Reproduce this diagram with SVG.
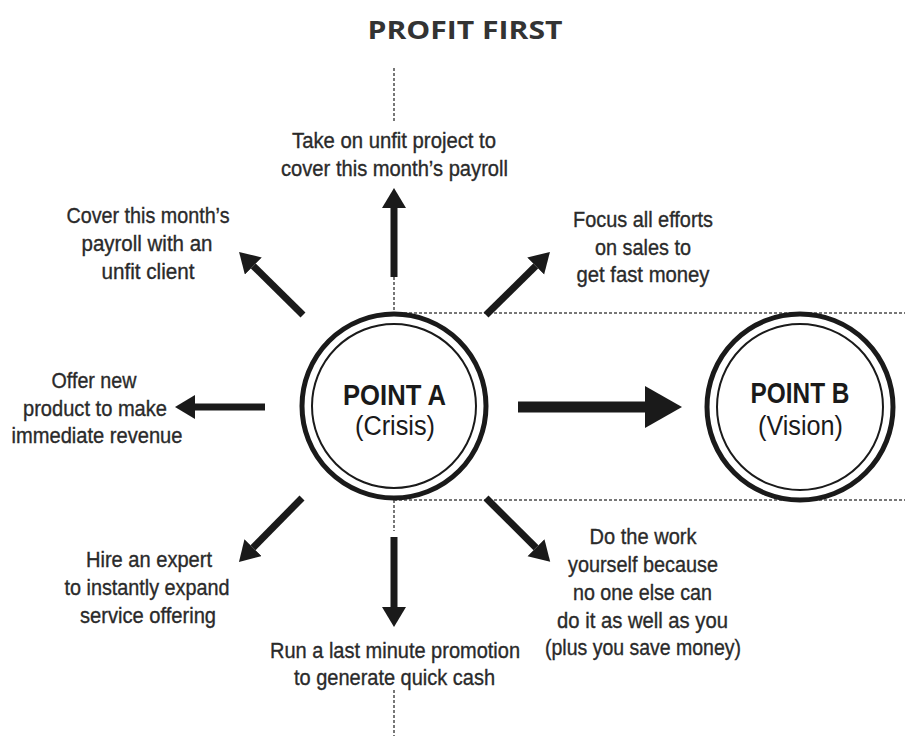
<svg xmlns="http://www.w3.org/2000/svg" width="905" height="736" viewBox="0 0 905 736">
<style>
.lbl{font-family:"Liberation Sans",Arial,sans-serif;font-size:22px;fill:#2a2a2a;stroke:#2a2a2a;stroke-width:0.35;text-anchor:middle}
.title{font-family:"Open Sans","Liberation Sans",sans-serif;font-weight:bold;font-size:25px;fill:#333;text-anchor:middle}
.pt{font-family:"Liberation Sans",Arial,sans-serif;font-weight:bold;font-size:30px;fill:#1a1a1a;text-anchor:middle}
.sub{font-family:"Liberation Sans",Arial,sans-serif;font-size:27px;fill:#1a1a1a;text-anchor:middle}
.dot{stroke:#777;stroke-width:2;stroke-dasharray:3 2;fill:none}
.arr{stroke:#1a1a1a;stroke-width:7;fill:none;marker-end:url(#head)}
.big{stroke:#1a1a1a;stroke-width:11;fill:none;marker-end:url(#bighead)}
.outer{fill:#fff;stroke:#1a1a1a;stroke-width:5}
.inner{fill:none;stroke:#1a1a1a;stroke-width:2}
</style>
<defs>
<marker id="head" markerUnits="userSpaceOnUse" markerWidth="22" markerHeight="26" refX="0" refY="12" orient="auto" viewBox="0 0 22 26">
<path d="M0,0 L20,12 L0,24 z" fill="#1a1a1a"/>
</marker>
<marker id="bighead" markerUnits="userSpaceOnUse" markerWidth="40" markerHeight="44" refX="0" refY="21" orient="auto" viewBox="0 0 40 44">
<path d="M0,0 L37,21 L0,42 z" fill="#1a1a1a"/>
</marker>
</defs>
<rect width="905" height="736" fill="#fff"/>
<text class="title" x="465" y="39" textLength="195" lengthAdjust="spacingAndGlyphs">PROFIT FIRST</text>
<g id="guides">
<line class="dot" x1="394" y1="68" x2="394" y2="123"/>
<line class="dot" x1="394" y1="277" x2="394" y2="313"/>
<line class="dot" x1="394" y1="500" x2="394" y2="531"/>
<line class="dot" x1="394" y1="690" x2="394" y2="736"/>
<line class="dot" x1="394" y1="313" x2="905" y2="313"/>
<line class="dot" x1="394" y1="500" x2="905" y2="500"/>
</g>
<g id="connectors">
<line class="arr" x1="394" y1="277" x2="394" y2="208"/>
<line class="arr" x1="394" y1="537" x2="394" y2="607"/>
<line class="arr" x1="265" y1="407" x2="195" y2="407"/>
<line class="arr" x1="303" y1="315" x2="253.3" y2="266"/>
<line class="arr" x1="486" y1="315" x2="535.7" y2="266"/>
<line class="arr" x1="302" y1="498" x2="253" y2="547.7"/>
<line class="arr" x1="486" y1="498" x2="536" y2="547.7"/>
<line class="big" x1="518" y1="407" x2="645" y2="407"/>
</g>
<g id="pointA">
<circle class="outer" cx="394" cy="406" r="92"/>
<circle class="inner" cx="394" cy="406" r="82"/>
<text class="pt" x="394.5" y="405" textLength="103" lengthAdjust="spacingAndGlyphs">POINT A</text>
<text class="sub" x="395" y="435" textLength="80" lengthAdjust="spacingAndGlyphs">(Crisis)</text>
</g>
<g id="pointB">
<circle class="outer" cx="800" cy="407" r="93"/>
<circle class="inner" cx="800" cy="407" r="83"/>
<text class="pt" x="800" y="403" textLength="99" lengthAdjust="spacingAndGlyphs">POINT B</text>
<text class="sub" x="800.5" y="435" textLength="85" lengthAdjust="spacingAndGlyphs">(Vision)</text>
</g>
<g id="n-top">
<text class="lbl" x="394" y="148" textLength="204" lengthAdjust="spacingAndGlyphs">Take on unfit project to</text>
<text class="lbl" x="394.5" y="176" textLength="227" lengthAdjust="spacingAndGlyphs">cover this month’s payroll</text>
</g>
<g id="n-topleft">
<text class="lbl" x="148" y="223" textLength="163" lengthAdjust="spacingAndGlyphs">Cover this month’s</text>
<text class="lbl" x="147" y="251" textLength="131" lengthAdjust="spacingAndGlyphs">payroll with an</text>
<text class="lbl" x="148" y="279" textLength="93" lengthAdjust="spacingAndGlyphs">unfit client</text>
</g>
<g id="n-left">
<text class="lbl" x="94" y="388" textLength="85" lengthAdjust="spacingAndGlyphs">Offer new</text>
<text class="lbl" x="95" y="416" textLength="144" lengthAdjust="spacingAndGlyphs">product to make</text>
<text class="lbl" x="97" y="443" textLength="171" lengthAdjust="spacingAndGlyphs">immediate revenue</text>
</g>
<g id="n-topright">
<text class="lbl" x="643" y="227" textLength="140" lengthAdjust="spacingAndGlyphs">Focus all efforts</text>
<text class="lbl" x="643" y="255" textLength="96" lengthAdjust="spacingAndGlyphs">on sales to</text>
<text class="lbl" x="643" y="282" textLength="133" lengthAdjust="spacingAndGlyphs">get fast money</text>
</g>
<g id="n-bottomleft">
<text class="lbl" x="149" y="567" textLength="126" lengthAdjust="spacingAndGlyphs">Hire an expert</text>
<text class="lbl" x="147" y="595" textLength="165" lengthAdjust="spacingAndGlyphs">to instantly expand</text>
<text class="lbl" x="148" y="623" textLength="136" lengthAdjust="spacingAndGlyphs">service offering</text>
</g>
<g id="n-bottom">
<text class="lbl" x="395" y="658" textLength="250" lengthAdjust="spacingAndGlyphs">Run a last minute promotion</text>
<text class="lbl" x="394.5" y="685" textLength="201" lengthAdjust="spacingAndGlyphs">to generate quick cash</text>
</g>
<g id="n-bottomright">
<text class="lbl" x="643" y="544" textLength="107" lengthAdjust="spacingAndGlyphs">Do the work</text>
<text class="lbl" x="643" y="572" textLength="150" lengthAdjust="spacingAndGlyphs">yourself because</text>
<text class="lbl" x="642.5" y="600" textLength="139" lengthAdjust="spacingAndGlyphs">no one else can</text>
<text class="lbl" x="642.5" y="628" textLength="171" lengthAdjust="spacingAndGlyphs">do it as well as you</text>
<text class="lbl" x="643" y="655" textLength="196" lengthAdjust="spacingAndGlyphs">(plus you save money)</text>
</g>
</svg>
